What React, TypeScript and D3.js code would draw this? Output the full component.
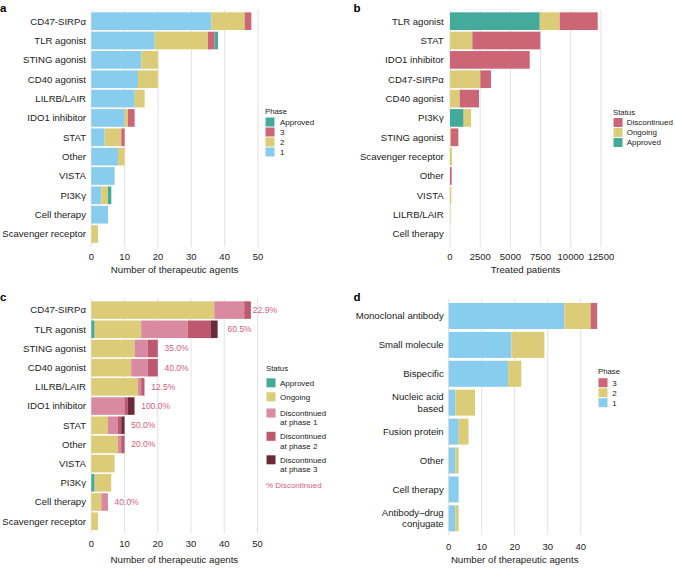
import React from 'react';
import * as d3 from 'd3';

const FONT = '"Liberation Sans", Arial, Helvetica, sans-serif';
const C_BLUE = '#88CCEE';
const C_YELLOW = '#DDCC77';
const C_RED = '#CC6677';
const C_TEAL = '#44AA99';
const C_D1 = '#D98AA0';
const C_D2 = '#BD596E';
const C_D3 = '#6B2A3A';
const C_PCT = '#D4607A';

// ---------- Panel a ----------
const catsA = ['CD47-SIRPα', 'TLR agonist', 'STING agonist', 'CD40 agonist', 'LILRB/LAIR', 'IDO1 inhibitor', 'STAT', 'Other', 'VISTA', 'PI3Kγ', 'Cell therapy', 'Scavenger receptor'];
const aPhase1 = [36, 19, 15, 14, 13, 10, 4, 8, 7, 3, 5, 0];
const aPhase2 = [10, 16, 5, 6, 3, 1, 5, 2, 0, 2, 0, 2];
const aPhase3 = [2, 2, 0, 0, 0, 2, 1, 0, 0, 0, 0, 0];
const aApproved = [0, 1, 0, 0, 0, 0, 0, 0, 0, 1, 0, 0];
const ticksA = [0, 10, 20, 30, 40, 50];

// ---------- Panel b ----------
const catsB = ['TLR agonist', 'STAT', 'IDO1 inhibitor', 'CD47-SIRPα', 'CD40 agonist', 'PI3Kγ', 'STING agonist', 'Scavenger receptor', 'Other', 'VISTA', 'LILRB/LAIR', 'Cell therapy'];
const bApproved = [7430, 0, 0, 0, 0, 1130, 0, 0, 0, 0, 0, 0];
const bOngoing = [1650, 1850, 0, 2510, 800, 610, 80, 170, 0, 110, 30, 0];
const bDiscontinued = [3150, 5620, 6600, 880, 1600, 0, 610, 0, 140, 0, 0, 0];
const ticksB = [0, 2500, 5000, 7500, 10000, 12500];

// ---------- Panel c ----------
const catsC = ['CD47-SIRPα', 'TLR agonist', 'STING agonist', 'CD40 agonist', 'LILRB/LAIR', 'IDO1 inhibitor', 'STAT', 'Other', 'VISTA', 'PI3Kγ', 'Cell therapy', 'Scavenger receptor'];
const cApproved = [0, 1, 0, 0, 0, 0, 0, 0, 0, 1, 0, 0];
const cOngoing = [37, 14, 13, 12, 14, 0, 5, 8, 7, 5, 3, 2];
const cDisc1 = [9, 14, 4, 5, 1, 10, 3, 1, 0, 0, 2, 0];
const cDisc2 = [2, 7, 3, 3, 1, 1, 1, 1, 0, 0, 0, 0];
const cDisc3 = [0, 2, 0, 0, 0, 2, 1, 0, 0, 0, 0, 0];
// x position (in data units) where each % label starts
const cPctAt = [48.6, 41, 22, 22, 18, 15, 12, 12, 9, 8, 7, 4];
const ticksC = [0, 10, 20, 30, 40, 50];

// ---------- Panel d ----------
const catsD = ['Monoclonal antibody', 'Small molecule', 'Bispecific', 'Nucleic acid\nbased', 'Fusion protein', 'Other', 'Cell therapy', 'Antibody–drug\nconjugate'];
const dPhase1 = [35, 19, 18, 2, 3, 2, 3, 2];
const dPhase2 = [8, 10, 4, 6, 3, 1, 0, 1];
const dPhase3 = [2, 0, 0, 0, 0, 0, 0, 0];
const ticksD = [0, 10, 20, 30, 40];

type Seg = { key: string; values: number[]; color: string };
type LegendItem = { label: string; color: string };

function Bars({ cats, segs, x, y }: { cats: string[]; segs: Seg[]; x: d3.ScaleLinear<number, number>; y: d3.ScaleBand<string> }) {
  const rows = cats.map((c, i) => {
    const r: Record<string, number> = {};
    segs.forEach((s) => (r[s.key] = s.values[i]));
    return r;
  });
  const stacked = d3.stack<Record<string, number>>().keys(segs.map((s) => s.key))(rows);
  return (
    <g>
      {stacked.map((layer, li) => (
        <g key={li} fill={segs[li].color}>
          {layer.map((d, i) => {
            const w = x(d[1]) - x(d[0]);
            if (w <= 0) return null;
            return <rect key={i} x={x(d[0])} y={y(cats[i])} width={w} height={y.bandwidth()} />;
          })}
        </g>
      ))}
    </g>
  );
}

function Axis({ x, ticks, gridTop, gridBottom, tickY, title, titleY, fmt }: {
  x: d3.ScaleLinear<number, number>; ticks: number[]; gridTop: number; gridBottom: number; tickY: number; title: string; titleY: number; fmt?: (v: number) => string;
}) {
  return (
    <g>
      {ticks.map((t) => (
        <line key={'g' + t} x1={x(t)} x2={x(t)} y1={gridTop} y2={gridBottom} stroke="#DEDEDE" strokeWidth={0.9} />
      ))}
      {ticks.map((t) => (
        <text key={'t' + t} x={x(t)} y={tickY} dy="0.35em" textAnchor="middle" fontSize={9.5} fill="#222">
          {fmt ? fmt(t) : String(t)}
        </text>
      ))}
      <text x={(x(ticks[0]) + x(ticks[ticks.length - 1])) / 2} y={titleY} dy="0.35em" textAnchor="middle" fontSize={9.7} fill="#222">
        {title}
      </text>
    </g>
  );
}

function CatLabels({ cats, y, x }: { cats: string[]; y: d3.ScaleBand<string>; x: number }) {
  return (
    <g>
      {cats.map((c) => {
        const lines = c.split('\n');
        const cy = (y(c) as number) + y.bandwidth() / 2;
        const lh = 11.3;
        return (
          <text key={c} x={x} textAnchor="end" fontSize={9.6} fill="#222">
            {lines.map((l, i) => (
              <tspan key={i} x={x} y={cy + (i - (lines.length - 1) / 2) * lh} dy="0.35em">
                {l}
              </tspan>
            ))}
          </text>
        );
      })}
    </g>
  );
}

function Legend({ title, items, x, titleY, tops, sq = 9, textX, lh = 9.5 }: {
  title: string; items: LegendItem[]; x: number; titleY: number; tops: number[]; sq?: number; textX: number; lh?: number;
}) {
  return (
    <g>
      <text x={x} y={titleY} dy="0.35em" fontSize={7.8} fill="#222">{title}</text>
      {items.map((it, i) => {
        const lines = it.label.split('\n');
        return (
          <g key={i}>
            <rect x={x + 0.5} y={tops[i]} width={sq} height={sq} fill={it.color} />
            <text fontSize={8} fill="#222">
              {lines.map((l, j) => (
                <tspan key={j} x={textX} y={tops[i] + sq / 2 + j * lh} dy="0.35em">{l}</tspan>
              ))}
            </text>
          </g>
        );
      })}
    </g>
  );
}

export default function App() {
  const xA = d3.scaleLinear().domain([0, 50]).range([91.3, 258]);
  const yA = d3.scaleBand<string>().domain(catsA).range([11.5, 243.7]).paddingInner(0.085).paddingOuter(0.0425);
  const xB = d3.scaleLinear().domain([0, 12500]).range([450, 601]);
  const yB = d3.scaleBand<string>().domain(catsB).range([11.5, 243.7]).paddingInner(0.085).paddingOuter(0.0425);
  const xC = d3.scaleLinear().domain([0, 50]).range([91.3, 257.5]);
  const yC = d3.scaleBand<string>().domain(catsC).range([300.5, 530.8]).paddingInner(0.085).paddingOuter(0.0425);
  const xD = d3.scaleLinear().domain([0, 40]).range([448.7, 580.7]);
  const yD = d3.scaleBand<string>().domain(catsD).range([301.5, 532.8]).paddingInner(0.1).paddingOuter(0.05);

  const segsA: Seg[] = [
    { key: '1', values: aPhase1, color: C_BLUE },
    { key: '2', values: aPhase2, color: C_YELLOW },
    { key: '3', values: aPhase3, color: C_RED },
    { key: 'Approved', values: aApproved, color: C_TEAL },
  ];
  const segsB: Seg[] = [
    { key: 'Approved', values: bApproved, color: C_TEAL },
    { key: 'Ongoing', values: bOngoing, color: C_YELLOW },
    { key: 'Discontinued', values: bDiscontinued, color: C_RED },
  ];
  const segsC: Seg[] = [
    { key: 'Approved', values: cApproved, color: C_TEAL },
    { key: 'Ongoing', values: cOngoing, color: C_YELLOW },
    { key: 'D1', values: cDisc1, color: C_D1 },
    { key: 'D2', values: cDisc2, color: C_D2 },
    { key: 'D3', values: cDisc3, color: C_D3 },
  ];
  const segsD: Seg[] = [
    { key: '1', values: dPhase1, color: C_BLUE },
    { key: '2', values: dPhase2, color: C_YELLOW },
    { key: '3', values: dPhase3, color: C_RED },
  ];

  const pctC = catsC.map((c, i) => {
    const disc = cDisc1[i] + cDisc2[i] + cDisc3[i];
    const tot = cApproved[i] + cOngoing[i] + disc;
    return { c, disc, pct: (100 * disc) / tot, at: cPctAt[i] };
  });

  return (
    <svg width={675} height={568} style={{ position: 'absolute', left: 0, top: 0, background: '#fff' }} fontFamily={FONT}>
      <rect width={675} height={568} fill="#fff" />
      <text x={0} y={11.5} fontSize={11.5} fontWeight="bold">a</text>
      <text x={353.5} y={11.5} fontSize={11.5} fontWeight="bold">b</text>
      <text x={0} y={300.8} fontSize={11.5} fontWeight="bold">c</text>
      <text x={353.5} y={300.8} fontSize={11.5} fontWeight="bold">d</text>

      {/* Panel a */}
      <Axis x={xA} ticks={ticksA} gridTop={10} gridBottom={247} tickY={257} title="Number of therapeutic agents" titleY={269.5} />
      <Bars cats={catsA} segs={segsA} x={xA} y={yA} />
      <CatLabels cats={catsA} y={yA} x={86} />
      <Legend title="Phase" x={265} titleY={111} textX={280}
        items={[{ label: 'Approved', color: C_TEAL }, { label: '3', color: C_RED }, { label: '2', color: C_YELLOW }, { label: '1', color: C_BLUE }]}
        tops={[117.5, 127.5, 137.5, 147.5]} sq={9} />

      {/* Panel b */}
      <Axis x={xB} ticks={ticksB} gridTop={10} gridBottom={247} tickY={256.5} title="Treated patients" titleY={269.5} />
      <Bars cats={catsB} segs={segsB} x={xB} y={yB} />
      <CatLabels cats={catsB} y={yB} x={443.7} />
      <Legend title="Status" x={613} titleY={112} textX={626.7}
        items={[{ label: 'Discontinued', color: C_RED }, { label: 'Ongoing', color: C_YELLOW }, { label: 'Approved', color: C_TEAL }]}
        tops={[118, 128, 138]} sq={9} />

      {/* Panel c */}
      <Axis x={xC} ticks={ticksC} gridTop={298} gridBottom={533} tickY={544} title="Number of therapeutic agents" titleY={560} />
      <Bars cats={catsC} segs={segsC} x={xC} y={yC} />
      <CatLabels cats={catsC} y={yC} x={86} />
      {pctC.map((p) =>
        p.disc > 0 ? (
          <text key={p.c} x={xC(p.at)} y={(yC(p.c) as number) + yC.bandwidth() / 2} dy="0.35em" fontSize={8.5} fill={C_PCT}>
            {p.pct.toFixed(1) + '%'}
          </text>
        ) : null
      )}
      <Legend title="Status" x={266} titleY={368.5} textX={280}
        items={[
          { label: 'Approved', color: C_TEAL },
          { label: 'Ongoing', color: C_YELLOW },
          { label: 'Discontinued\nat phase 1', color: C_D1 },
          { label: 'Discontinued\nat phase 2', color: C_D2 },
          { label: 'Discontinued\nat phase 3', color: C_D3 },
        ]}
        tops={[378.3, 392.3, 408.5, 431.8, 455.3]} sq={9} lh={9.4} />
      <text x={266} y={485} dy="0.35em" fontSize={8} fill={C_PCT}>% Discontinued</text>

      {/* Panel d */}
      <Axis x={xD} ticks={ticksD} gridTop={299} gridBottom={535} tickY={547} title="Number of therapeutic agents" titleY={560} />
      <Bars cats={catsD} segs={segsD} x={xD} y={yD} />
      <CatLabels cats={catsD} y={yD} x={443.7} />
      <Legend title="Phase" x={598} titleY={371.5} textX={612.3}
        items={[{ label: '3', color: C_RED }, { label: '2', color: C_YELLOW }, { label: '1', color: C_BLUE }]}
        tops={[378.2, 388.2, 398.2]} sq={9} />
    </svg>
  );
}
